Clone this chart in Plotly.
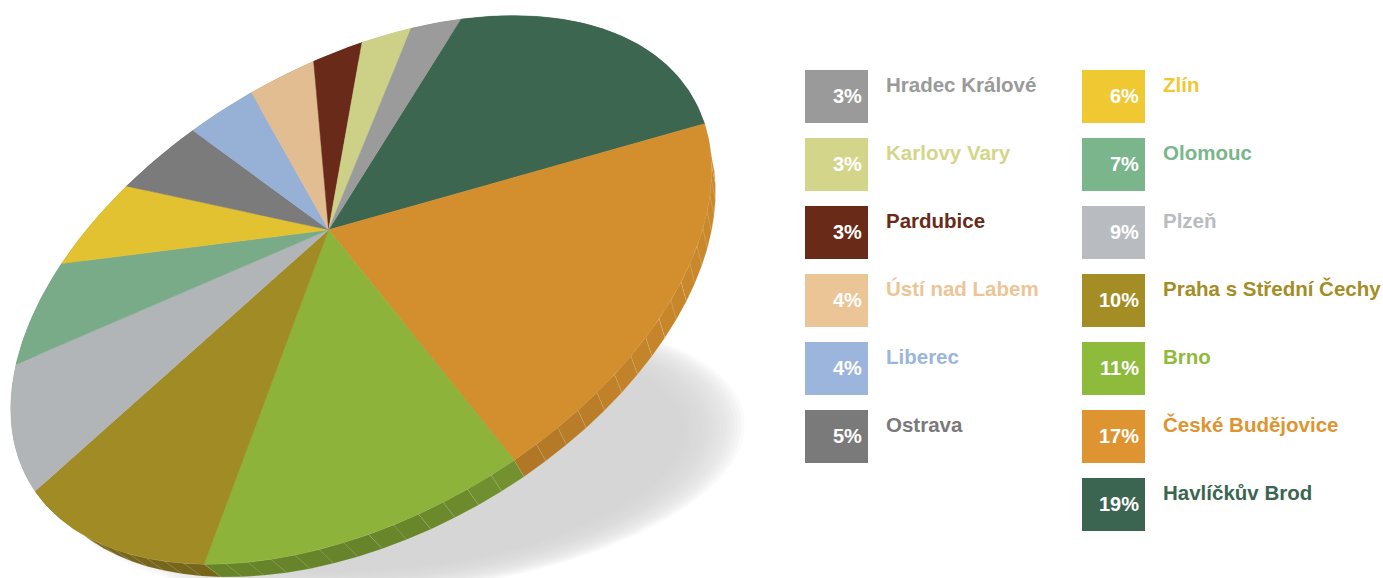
import numpy as np
import plotly.graph_objects as go

# ---------------- data ----------------
regions = ["Havlíčkův Brod", "České Budějovice", "Brno", "Praha s Střední Čechy",
           "Plzeň", "Olomouc", "Zlín", "Ostrava", "Liberec", "Ústí nad Labem",
           "Pardubice", "Karlovy Vary", "Hradec Králové"]
shares = [19, 17, 11, 10, 9, 7, 6, 5, 4, 4, 3, 3, 3]

# ---------------- styles ----------------
pie_colors = ["#3c6650", "#d38e2e", "#8db33a", "#a08b25", "#b1b5b8", "#7aab88",
              "#e2c230", "#7a7b7a", "#97b0d6", "#e1bd91", "#692a1a", "#cdd087", "#9a9b9a"]
legend_colors = ["#3b6550", "#de9430", "#8fbb3c", "#a48d24", "#b8bcc0", "#7ab58c",
                 "#f0c832", "#7a7a7a", "#9bb5dc", "#ecc596", "#6a2a18", "#d3d68a", "#999a99"]

W, Hh = 1383, 578

# perspective projection of the unit disc (camera), pixel space
CAM = np.array([[229.225, 220.27, 328.653],
                [-206.552, -46.1412, 229.8],
                [0.210925, -0.216964, 1.0]])
VANISH = (891.0, 1082.0, 1.0)   # vanishing point of the pie's thickness
THICK = 0.019

CAM_B = CAM.copy()
CAM_B[:, 2] += THICK * np.array(VANISH)


def proj(M, u, v):
    p = M @ np.vstack([u, v, np.ones_like(u)])
    return p[0] / p[2], p[1] / p[2]


def shade(hexc, f):
    r, g, b = int(hexc[1:3], 16), int(hexc[3:5], 16), int(hexc[5:7], 16)
    return "rgb(%d,%d,%d)" % (min(255, r * f), min(255, g * f), min(255, b * f))


T = float(sum(shares))
cum = np.concatenate([[0], np.cumsum(shares)])
starts = 2 * np.pi * cum[:-1] / T

fig = go.Figure()

# soft shadow
sc, sa, sb, salpha = (400, 455), 315, 125, np.deg2rad(6)
t = np.linspace(0, 2 * np.pi, 240)
for k in np.linspace(1.10, 0.86, 22):
    ex = sc[0] + k * sa * np.cos(t) * np.cos(salpha) + k * sb * np.sin(t) * np.sin(salpha)
    ey = sc[1] - k * sa * np.cos(t) * np.sin(salpha) + k * sb * np.sin(t) * np.cos(salpha)
    fig.add_trace(go.Scatter(x=ex, y=ey, fill="toself", mode="lines", line=dict(width=0),
                             fillcolor="rgba(211,214,213,0.12)", hoverinfo="skip", showlegend=False))

# side (rim) of the pie
cx0, cy0 = proj(CAM, np.array([0.0]), np.array([0.0]))
for i in range(len(shares)):
    a0 = starts[i]
    a1 = a0 + 2 * np.pi * shares[i] / T
    n = max(2, int(round(shares[i] * 3.6 / 3.0)))
    edges = np.linspace(a0, a1, n + 1)
    groups = {}
    for j in range(n):
        aa = np.linspace(edges[j], edges[j + 1], 4)
        tx, ty = proj(CAM, np.cos(aa), np.sin(aa))
        bx, by = proj(CAM_B, np.cos(aa), np.sin(aa))
        mx, my = proj(CAM, np.array([np.cos(aa.mean())]), np.array([np.sin(aa.mean())]))
        nx = (mx[0] - cx0[0]) / np.hypot(mx[0] - cx0[0], my[0] - cy0[0])
        lvl = round(0.74 + 0.22 * max(nx, 0) ** 2, 2)
        g = groups.setdefault(lvl, ([], []))
        g[0].extend(list(tx) + list(bx[::-1]) + [tx[0], None])
        g[1].extend(list(ty) + list(by[::-1]) + [ty[0], None])
    for lvl, (xs, ys) in groups.items():
        fig.add_trace(go.Scatter(x=xs, y=ys, fill="toself", mode="lines",
                                 line=dict(width=0.6, color="rgba(255,255,255,0.16)"),
                                 fillcolor=shade(pie_colors[i], lvl), hoverinfo="skip", showlegend=False))

# top face
for i in range(len(shares)):
    a0 = starts[i]
    a1 = a0 + 2 * np.pi * shares[i] / T
    aa = np.linspace(a0, a1, max(8, shares[i] * 6))
    px, py = proj(CAM, np.concatenate([[0.0], np.cos(aa), [0.0]]),
                  np.concatenate([[0.0], np.sin(aa), [0.0]]))
    fig.add_trace(go.Scatter(x=px, y=py, fill="toself", mode="lines",
                             line=dict(width=0.5, color=pie_colors[i]), fillcolor=pie_colors[i],
                             hoverinfo="skip", showlegend=False, name=regions[i]))

# legend (ascending order, two columns)
order = list(range(len(shares)))[::-1]
font_family = "Liberation Sans, Arial, sans-serif"
for k, i in enumerate(order):
    col = 0 if k < 6 else 1
    row = k if k < 6 else k - 6
    bx0 = 805 if col == 0 else 1082
    by0 = 70 + 68 * row
    fig.add_shape(type="rect", x0=bx0, x1=bx0 + 63, y0=by0, y1=by0 + 53,
                  fillcolor=legend_colors[i], line=dict(width=0), layer="above")
    fig.add_annotation(x=bx0 + 59, y=by0 + 26, text="%d%%" % shares[i], showarrow=False,
                       xanchor="right", yanchor="middle",
                       font=dict(family=font_family, size=20, color="white", weight="bold"))
    fig.add_annotation(x=bx0 + 79, y=by0 + 14, text=regions[i], showarrow=False,
                       xanchor="left", yanchor="middle",
                       font=dict(family=font_family, size=20.5, color=legend_colors[i], weight="bold"))

fig.update_layout(width=W, height=Hh, margin=dict(l=0, r=0, t=0, b=0),
                  paper_bgcolor="white", plot_bgcolor="white",
                  xaxis=dict(range=[0, W], visible=False, fixedrange=True),
                  yaxis=dict(range=[Hh, 0], visible=False, fixedrange=True),
                  showlegend=False)
fig.write_html("out.html", config={"displayModeBar": False, "staticPlot": True},
               post_script="document.body.style.margin='0';document.body.style.overflow='hidden';")
